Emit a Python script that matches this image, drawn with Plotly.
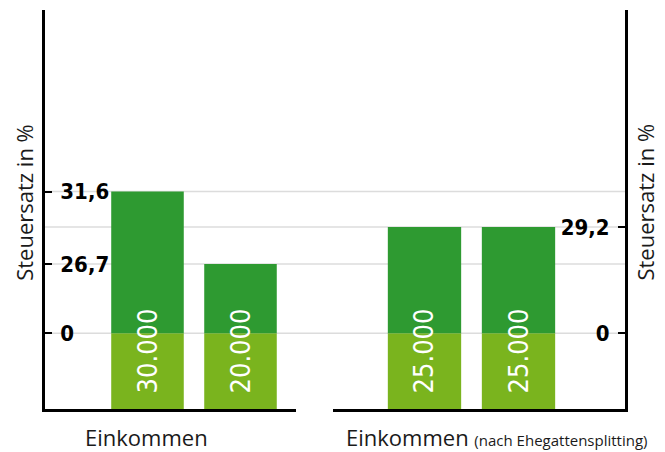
import plotly.graph_objects as go

# ---- data ----
INCOMES_LEFT = ["30.000", "20.000"]          # Einkommen
RATES_LEFT = [31.6, 26.7]                    # Steuersatz in %
INCOMES_RIGHT = ["25.000", "25.000"]         # Einkommen nach Ehegattensplitting
RATES_RIGHT = [29.2, 29.2]                   # Steuersatz in %

# ---- axis break (broken y scale: values below the break are collapsed to 0) ----
AXIS_BREAK = 22.0
LOWER_DEPTH = 5.13   # depth of the income band below the zero line
UPPER_LIMIT = 21.9

DARK = "#2e9a31"
LIGHT = "#7ab41e"
NARROW = "DejaVu Sans Condensed, Liberation Sans Narrow, Roboto Condensed, sans-serif"
TEXTFONT = "Open Sans, Noto Sans, sans-serif"

def disp(v):
    return v - AXIS_BREAK

def fmt(v):
    return f"{v:.1f}".replace(".", ",")

fig = go.Figure()

panels = [
    ("x", "y", INCOMES_LEFT, RATES_LEFT),
    ("x2", "y2", INCOMES_RIGHT, RATES_RIGHT),
]
BAR_W = 0.78
for xa, ya, incomes, rates in panels:
    idx = list(range(len(incomes)))
    fig.add_trace(go.Bar(
        x=idx, y=[LOWER_DEPTH] * len(idx), base=[-LOWER_DEPTH] * len(idx),
        marker=dict(color=LIGHT, line=dict(width=0)), width=BAR_W,
        xaxis=xa, yaxis=ya, showlegend=False, hoverinfo="skip"))
    fig.add_trace(go.Bar(
        x=idx, y=[disp(r) for r in rates], base=[0] * len(idx),
        marker=dict(color=DARK, line=dict(width=0)), width=BAR_W,
        xaxis=xa, yaxis=ya, showlegend=False,
        customdata=rates, hovertemplate="%{customdata}%<extra></extra>"))
    for i, inc in zip(idx, incomes):
        fig.add_annotation(x=i, y=-1.2, xref=xa, yref=ya, text=inc, showarrow=False,
                           textangle=-90, xanchor="center", yanchor="middle",
                           font=dict(family=NARROW, size=27, color="white", weight=500))

left_ticks = sorted(set(RATES_LEFT))
right_ticks = sorted(set(RATES_RIGHT))
ltv = [0] + [disp(v) for v in left_ticks]
ltt = ["0"] + [fmt(v) for v in left_ticks]
rtv = [0] + [disp(v) for v in right_ticks]
rtt = ["0"] + [fmt(v) for v in right_ticks]

# gridlines across the full width
for v in sorted(set(ltv + rtv)):
    fig.add_shape(type="line", xref="paper", x0=0, x1=1, yref="y", y0=v, y1=v,
                  line=dict(color="#dcdcdc", width=1.5), layer="below")

yr = [-LOWER_DEPTH, UPPER_LIMIT]
tickfont = dict(family=NARROW, size=22, color="black", weight="bold")
common_y = dict(range=yr, showgrid=False, zeroline=False, showline=True,
                linecolor="black", linewidth=2.5, ticks="inside", ticklen=7,
                tickwidth=2, tickcolor="black", ticklabelposition="inside",
                ticklabelstandoff=10, tickfont=tickfont, fixedrange=True)
# the page body has an 8px margin, so the figure is sized to the visible window
fig.update_layout(
    width=657, height=444,
    margin=dict(l=37, r=40, t=2, b=43),
    paper_bgcolor="white", plot_bgcolor="white",
    barmode="overlay",
    xaxis=dict(domain=[0, 0.4328], range=[-1.102, 1.597], showticklabels=False,
               ticks="", showgrid=False, zeroline=False, showline=True,
               linecolor="black", linewidth=2.5, anchor="y"),
    xaxis2=dict(domain=[0.4966, 1], range=[-0.973, 2.133], showticklabels=False,
                ticks="", showgrid=False, zeroline=False, showline=True,
                linecolor="black", linewidth=2.5, anchor="y2"),
    yaxis=dict(anchor="x", side="left", tickvals=ltv, ticktext=ltt, **common_y),
    yaxis2=dict(anchor="x2", side="right", overlaying="y", tickvals=rtv,
                ticktext=rtt, **common_y),
)

# axis titles
for xp in (-0.0374, 1.0328):
    fig.add_annotation(x=xp, y=0.5175, xref="paper", yref="paper",
                       text="Steuersatz in %", showarrow=False, textangle=-90,
                       xanchor="center", yanchor="middle",
                       font=dict(family=TEXTFONT, size=22, color="#1a1a1a"))

fig.add_annotation(x=0.065, y=-0.114, xref="paper", yref="paper", text="Einkommen",
                   showarrow=False, xanchor="left", yanchor="bottom",
                   font=dict(family=TEXTFONT, size=22, color="#1a1a1a"))
fig.add_annotation(x=0.5155, y=-0.114, xref="paper", yref="paper",
                   text="Einkommen <span style='font-size:15px'>(nach Ehegattensplitting)</span>",
                   showarrow=False, xanchor="left", yanchor="bottom",
                   font=dict(family=TEXTFONT, size=22, color="#1a1a1a"))

fig.write_html("out.html")
